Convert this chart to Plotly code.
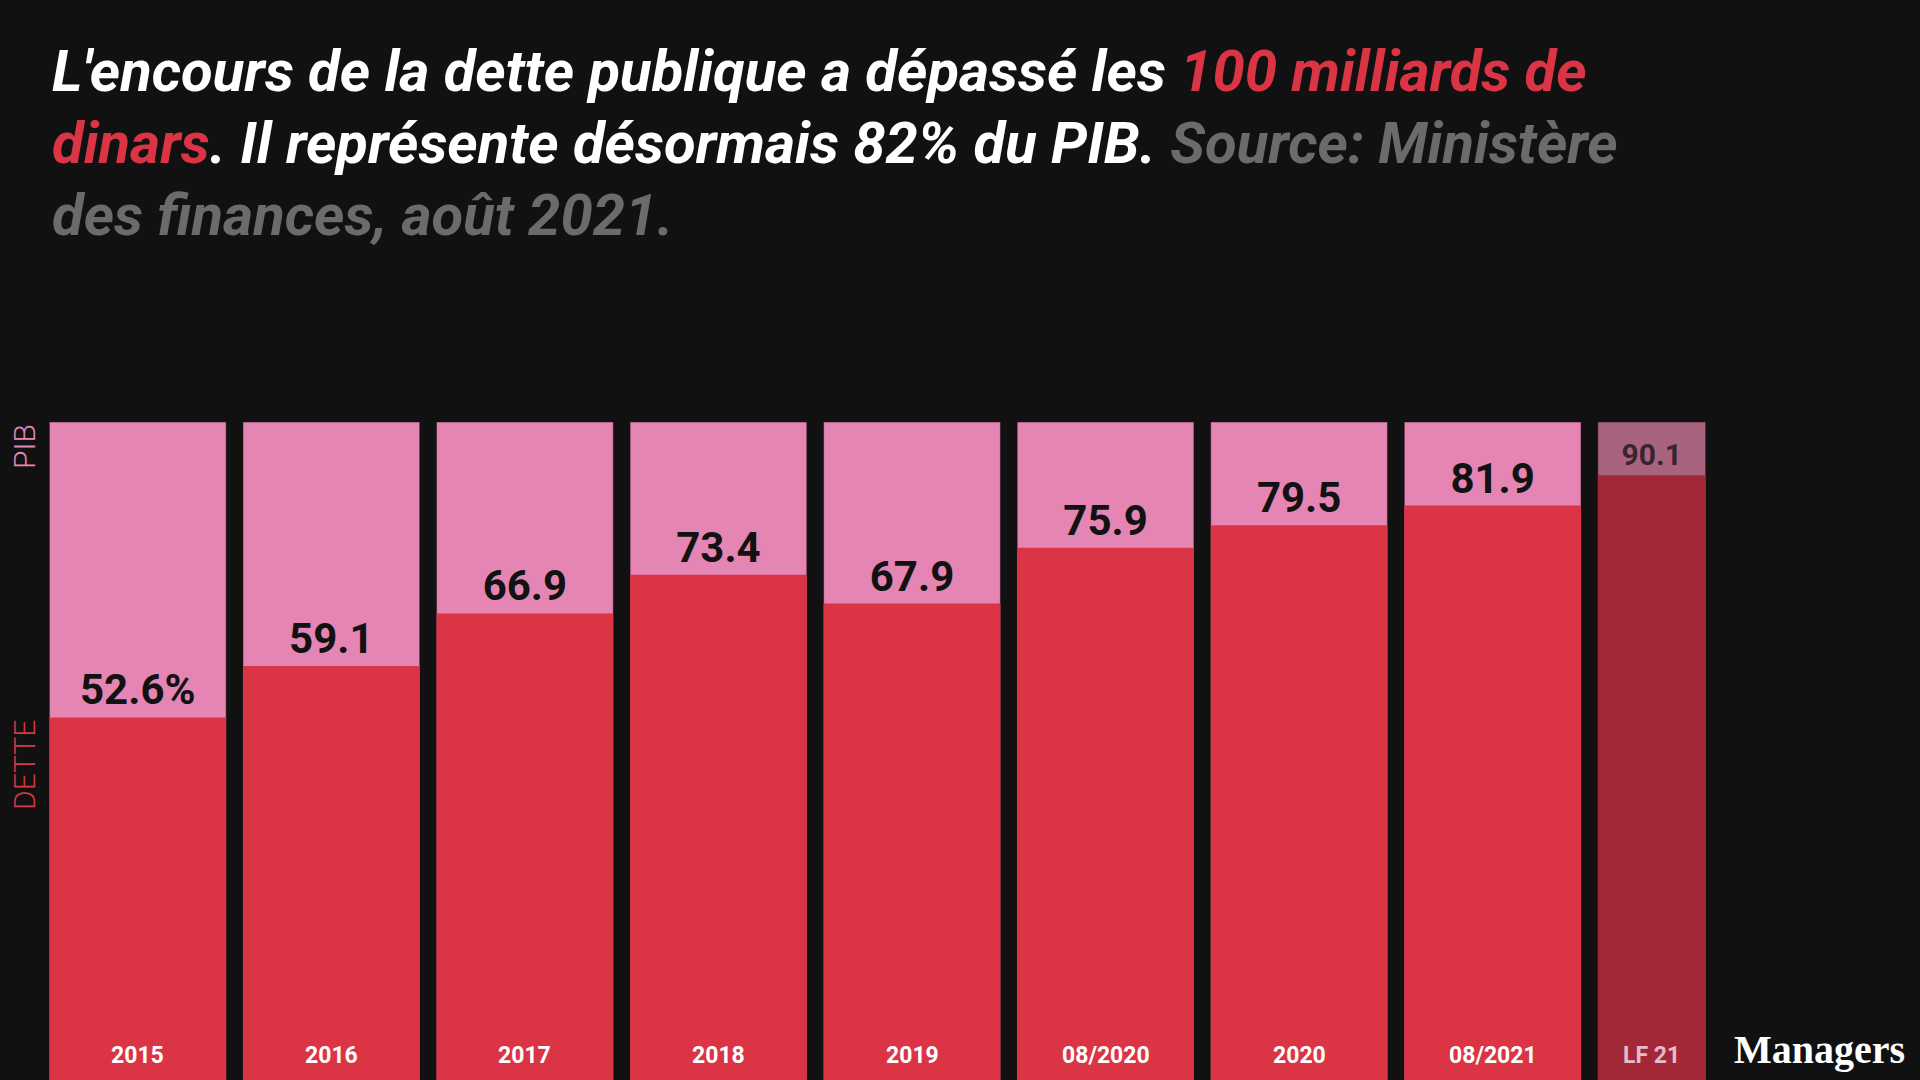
import plotly.graph_objects as go

# Data
categories   = ["2015", "2016", "2017", "2018", "2019", "08/2020", "2020", "08/2021", "LF 21"]
ratio_labels = [52.6, 59.1, 66.9, 73.4, 67.9, 75.9, 79.5, 81.9, 90.1]
dette_height = [55.1, 62.9, 70.9, 76.8, 72.4, 80.9, 84.3, 87.3, 91.9]
pib_height   = [100, 100, 100, 100, 100, 100, 100, 100, 100]

# Style
bg_color    = "#111111"
pink        = "#e585b4"
red         = "#db3545"
pink_dim    = "#a8647f"
red_dim     = "#a32837"
grey        = "#6b6b6b"
bar_w       = 0.913
last_w      = 0.557

n = len(categories)
widths  = [bar_w] * (n - 1) + [last_w]
offsets = [-bar_w / 2] * n

texts = [f"{v}%" if i == 0 else f"{v}" for i, v in enumerate(ratio_labels)]
txt_size  = [42] * (n - 1) + [30]
txt_color = ["#121212"] * (n - 1) + ["#3b2431"]

fig = go.Figure()

fig.add_trace(go.Bar(
    x=categories, y=pib_height, name="PIB",
    width=widths, offset=offsets,
    marker=dict(color=[pink] * (n - 1) + [pink_dim], line=dict(width=1, color="rgba(40,20,30,0.5)")),
    hoverinfo="skip",
))

fig.add_trace(go.Bar(
    x=categories, y=dette_height, name="DETTE",
    width=widths, offset=offsets,
    marker=dict(color=[red] * (n - 1) + [red_dim], line=dict(width=0)),
    text=texts, textposition="outside", constraintext="none", cliponaxis=False,
    textfont=dict(family="Roboto", size=txt_size, color=txt_color, weight="bold"),
    hoverinfo="skip",
))

# category labels at the foot of each bar (centred on the bar, which may be narrower)
for i, cat in enumerate(categories):
    fig.add_annotation(
        x=i + offsets[i] + widths[i] / 2, y=0, xref="x", yref="y", yanchor="bottom", yshift=9,
        text=f"<b>{cat}</b>", showarrow=False,
        font=dict(family="Roboto", size=23, color="#ffffff" if i < n - 1 else "#e3bccb"),
    )

# side labels
fig.add_annotation(x=0, y=pib_height[0], xref="paper", yref="y", xanchor="right", yanchor="top",
                   xshift=3, text="PIB", textangle=-90, showarrow=False,
                   font=dict(family="Roboto", size=30, color=pink, weight=300))
fig.add_annotation(x=0, y=dette_height[0], xref="paper", yref="y", xanchor="right", yanchor="top",
                   xshift=3, text="DETTE", textangle=-90, showarrow=False,
                   font=dict(family="Roboto", size=30, color=red, weight=300))

# logo
fig.add_annotation(x=1, y=0, xref="paper", yref="paper", xanchor="right", yanchor="bottom",
                   xshift=124, yshift=6, text="<b>Managers</b>", showarrow=False,
                   font=dict(family="Liberation Serif", size=40, color="#ffffff"))

# headline, one annotation per line so the line spacing can follow the original
title_lines = [
    f"L'encours de la dette publique a dépassé les <span style='color:{red}'>100 milliards de</span>",
    f"<span style='color:{red}'>dinars</span>. Il représente désormais 82% du PIB. "
    f"<span style='color:{grey}'>Source: Ministère</span>",
    f"<span style='color:{grey}'>des finances, août 2021.</span>",
]
title_shift = [351, 279, 207]
for line, ys in zip(title_lines, title_shift):
    fig.add_annotation(x=0, y=1, xref="paper", yref="paper", xanchor="left", yanchor="middle",
                       xshift=9, yshift=ys, text=f"<b><i>{line}</i></b>", showarrow=False,
                       font=dict(family="Roboto", size=58, color="#ffffff"))

fig.update_layout(
    width=1920, height=1080,
    paper_bgcolor=bg_color, plot_bgcolor=bg_color,
    barmode="overlay", showlegend=False,
    margin=dict(l=41, r=137, t=422, b=0),
    xaxis=dict(type="category", range=[-0.5, n - 0.5], showticklabels=False,
               showgrid=False, zeroline=False, showline=False, ticks=""),
    yaxis=dict(range=[0, 100], showticklabels=False, showgrid=False,
               zeroline=False, showline=False, ticks=""),
)

fig.write_html("out.html", config={"displayModeBar": False},
               post_script="document.body.style.margin='0';document.body.style.background='#111111';")
